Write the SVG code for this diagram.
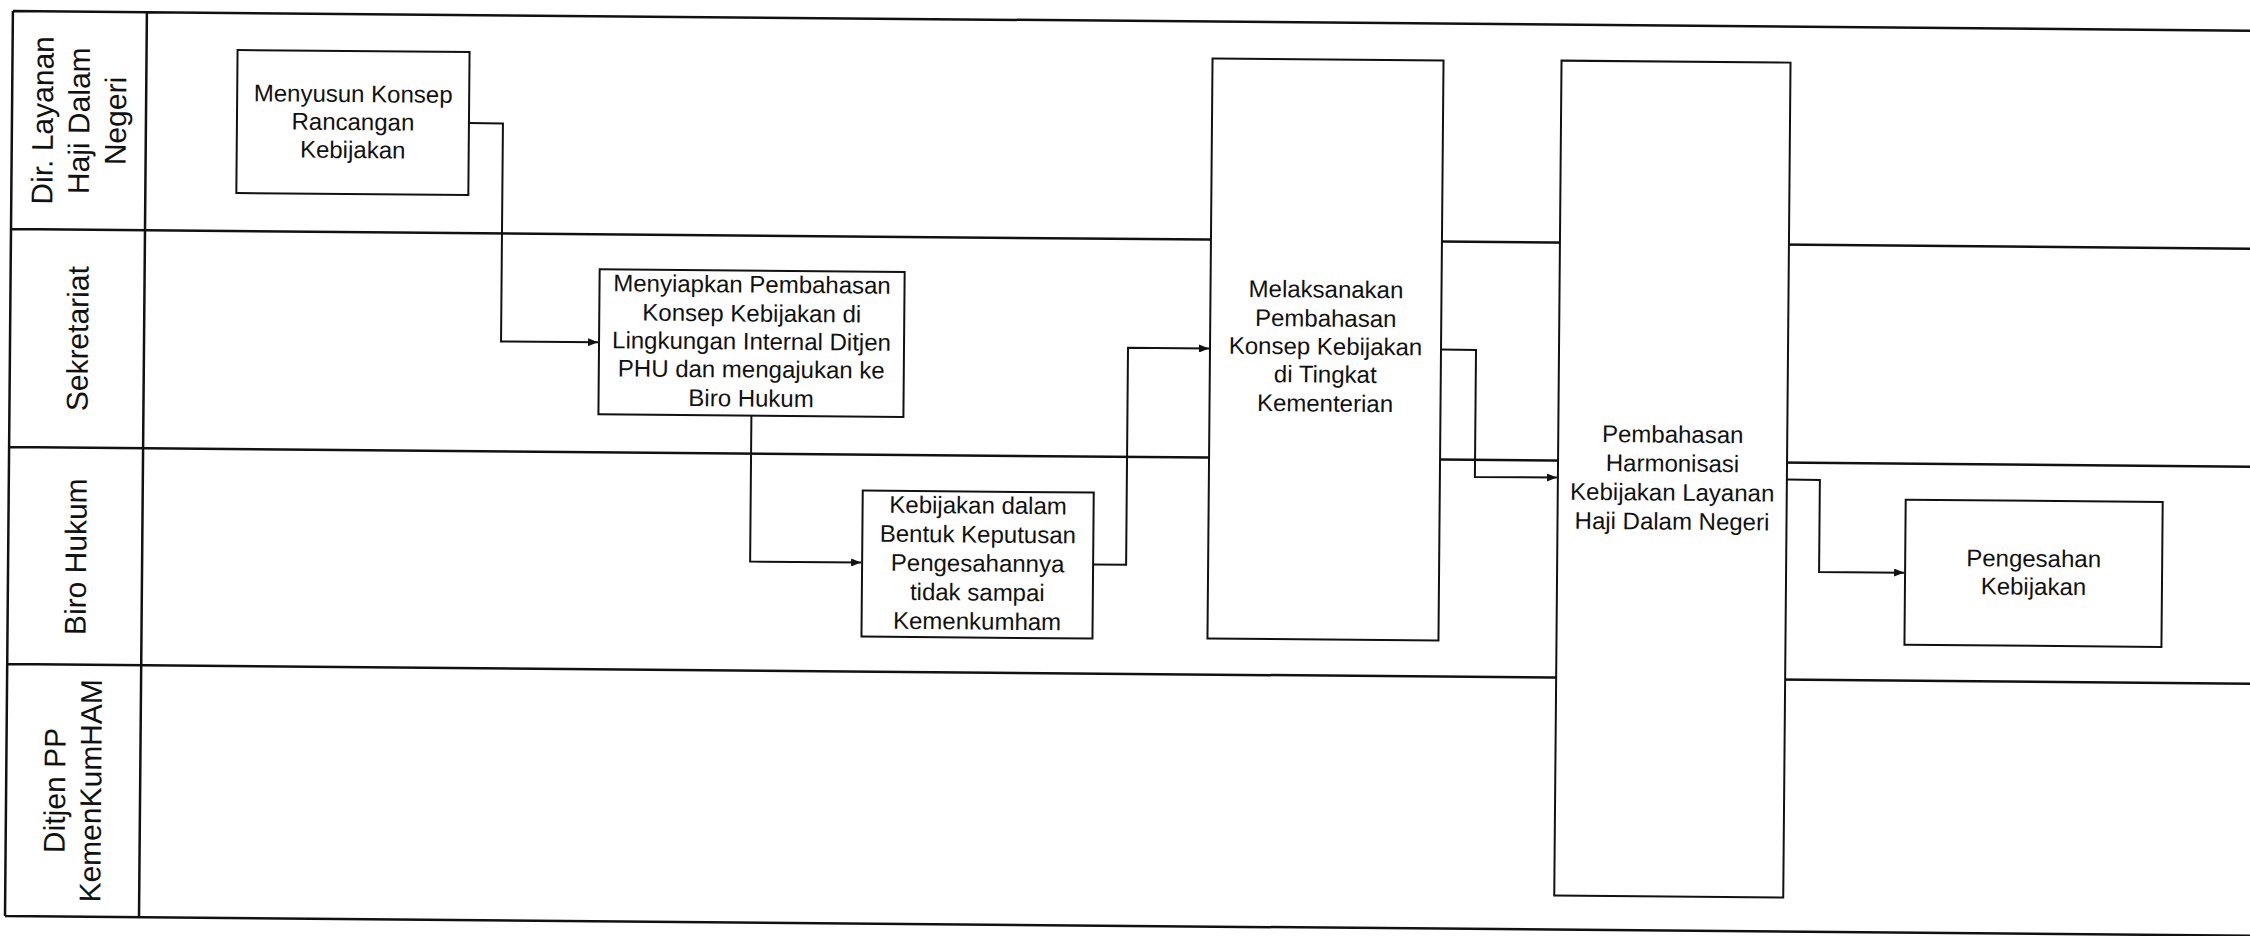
<svg xmlns="http://www.w3.org/2000/svg" width="2250" height="936" viewBox="0 0 2250 936">
<style>
.lane{stroke:#111;stroke-width:2.5;fill:none}
.box{fill:#fff;stroke:#111;stroke-width:2}
.conn{fill:none;stroke:#111;stroke-width:2}
.t{font-family:"Liberation Sans",Arial,sans-serif;font-size:24px;fill:#111;text-anchor:middle}
.h{font-family:"Liberation Sans",Arial,sans-serif;font-size:30px;fill:#111;text-anchor:middle}
</style>
<defs>
<marker id="arr" markerUnits="userSpaceOnUse" markerWidth="10" markerHeight="8" refX="10" refY="4" orient="auto">
<path d="M0,0 L10,4 L0,8 z" fill="#111"/>
</marker>
</defs>
<rect x="0" y="0" width="2250" height="936" fill="#fff"/>
<g transform="rotate(0.5)">
<g id="lanes">
<path class="lane" d="M13,11 H2262 M13,229 H2262 M13,447 H2262 M13,664 H2262 M13,916 H2262 M13,11 V916 M147,11 V916"/>
<text class="h" transform="translate(54,120) rotate(-90)">Dir. Layanan</text>
<text class="h" transform="translate(90.5,120) rotate(-90)">Haji Dalam</text>
<text class="h" transform="translate(127,120) rotate(-90)">Negeri</text>
<text class="h" transform="translate(91,338) rotate(-90)">Sekretariat</text>
<text class="h" transform="translate(91,556) rotate(-90)">Biro Hukum</text>
<text class="h" transform="translate(72,790) rotate(-90)">Ditjen PP</text>
<text class="h" transform="translate(108,790) rotate(-90)">KemenKumHAM</text>
</g>
<g id="node1">
<rect class="box" x="238" y="48" width="232" height="143"/>
<text class="t" x="354" y="99">Menyusun Konsep</text>
<text class="t" x="354" y="127">Rancangan</text>
<text class="t" x="354" y="155">Kebijakan</text>
</g>
<g id="node2">
<rect class="box" x="602" y="264" width="305" height="145"/>
<text class="t" x="754.5" y="286">Menyiapkan Pembahasan</text>
<text class="t" x="754.5" y="315">Konsep Kebijakan di</text>
<text class="t" x="754.5" y="343">Lingkungan Internal Ditjen</text>
<text class="t" x="754.5" y="371">PHU dan mengajukan ke</text>
<text class="t" x="754.5" y="400">Biro Hukum</text>
</g>
<g id="node3">
<rect class="box" x="867" y="483" width="231" height="146"/>
<text class="t" x="982.5" y="505">Kebijakan dalam</text>
<text class="t" x="982.5" y="534">Bentuk Keputusan</text>
<text class="t" x="982.5" y="563">Pengesahannya</text>
<text class="t" x="982.5" y="592">tidak sampai</text>
<text class="t" x="982.5" y="621">Kemenkumham</text>
</g>
<g id="node4">
<rect class="box" x="1213" y="48" width="231" height="580"/>
<text class="t" x="1328.5" y="286">Melaksanakan</text>
<text class="t" x="1328.5" y="315">Pembahasan</text>
<text class="t" x="1328.5" y="343">Konsep Kebijakan</text>
<text class="t" x="1328.5" y="371">di Tingkat</text>
<text class="t" x="1328.5" y="400">Kementerian</text>
</g>
<g id="node5">
<rect class="box" x="1562" y="47" width="229" height="835"/>
<text class="t" x="1676.5" y="428">Pembahasan</text>
<text class="t" x="1676.5" y="457">Harmonisasi</text>
<text class="t" x="1676.5" y="486">Kebijakan Layanan</text>
<text class="t" x="1676.5" y="515">Haji Dalam Negeri</text>
</g>
<g id="node6">
<rect class="box" x="1910" y="483" width="257" height="145"/>
<text class="t" x="2038.5" y="549">Pengesahan</text>
<text class="t" x="2038.5" y="577">Kebijakan</text>
</g>
<g id="connectors">
<path class="conn" marker-end="url(#arr)" d="M470,119 H504 V337 H601"/>
<path class="conn" marker-end="url(#arr)" d="M755,409 V555 H866"/>
<path class="conn" marker-end="url(#arr)" d="M1098,555 H1131 V338 H1212"/>
<path class="conn" marker-end="url(#arr)" d="M1444,337 H1479 V464 H1561"/>
<path class="conn" marker-end="url(#arr)" d="M1791,464 H1824 V556 H1909"/>
</g>
</g>
</svg>
